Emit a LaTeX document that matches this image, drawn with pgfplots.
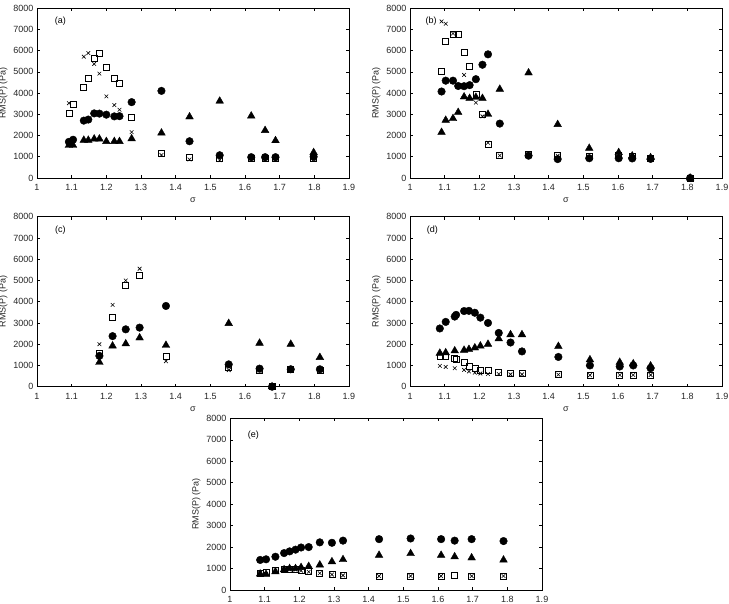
\documentclass[border=0pt]{standalone}
\usepackage{fontspec}
\setmainfont{Liberation Sans}
\usepackage{pgfplots}
\usepackage{pgfplotstable}
\pgfplotsset{compat=1.18}

% Columns: sigma, filled circles, filled triangles, open squares, crosses
\pgfplotstableread{
s      circ   tri    sq     cr
1.092  1700   1540   3030   3520
1.104  1800   1540   3470   nan
1.135  2700   1780   4280   5710
1.148  2750   1780   4680   5880
1.165  3040   1840   5620   5370
1.180  3030   1840   5870   4910
1.200  2980   1720   5200   3840
1.223  2900   1720   4700   3430
1.238  2910   1720   4470   3210
1.273  3570   1850   2870   2160
1.359  4100   2120   1150   1080
1.440  1730   2880   980    870
1.527  1070   3620   950    840
1.618  980    2920   950    950
1.658  980    2240   950    850
1.688  980    1760   950    850
1.798  1000   1200   950    880
}\dataA

\pgfplotstableread{
s      circ   tri    sq     cr
1.091  4070   2150   5020   7370
1.103  4580   2720   6430   7260
1.124  4580   2800   6780   6800
1.139  4330   3090   6780   nan
1.156  4320   3820   5900   4850
1.172  4370   3750   5250   nan
1.190  4650   3800   3920   3550
1.209  5330   3750   3000   2900
1.225  5820   3000   1570   1660
1.259  2560   4180   1060   1060
1.342  1050   4950   1120   1100
1.426  890    2520   1080   1050
1.517  930    1400   1040   1000
1.602  930    1200   1080   1100
1.641  920    1040   1000   1000
1.694  900    960    930    930
1.808  0      0      0      0
}\dataB

\pgfplotstableread{
s      circ   tri    sq     cr
1.180  1450   1150   1550   2000
1.218  2380   1920   3250   3850
1.256  2700   2020   4780   5000
1.296  2780   2300   5220   5550
1.372  3800   1950   1450   1200
1.553  1050   2980   900    780
1.642  850    2050   780    750
1.678  0      0      0      0
1.732  820    2000   800    780
1.816  820    1380   780    780
}\dataC

\pgfplotstableread{
s      circ   tri    sq     cr
1.086  2740   1580   1450   980
1.103  3050   1600   1430   930
1.129  3300   1690   1360   870
1.133  3380   nan    1290   nan
1.156  3560   1720   1130   790
1.170  3570   1760   960    720
1.187  3480   1830   860    660
1.203  3250   1920   780    620
1.225  3000   2000   760    600
1.256  2530   2260   680    600
1.290  2080   2450   640    580
1.323  1660   2450   620    580
1.428  1400   1900   570    570
1.519  1000   1270   540    540
1.605  950    1150   550    550
1.644  1000   1080   550    550
1.694  870    980    550    550
}\dataD

\pgfplotstableread{
s      circ   tri    sq     cr
1.087  1400   750    780    800
1.104  1430   730    830    750
1.131  1550   850    900    900
1.156  1720   950    950    950
1.172  1800   1000   950    950
1.189  1880   1000   950    950
1.205  1980   1050   900    900
1.227  2000   1100   850    850
1.259  2220   1170   780    780
1.294  2200   1320   720    720
1.326  2300   1420   680    680
1.430  2370   1620   650    650
1.521  2400   1700   650    650
1.609  2370   1620   650    650
1.648  2300   1550   690    nan
1.697  2370   1500   650    650
1.789  2280   1400   650    650
}\dataE

\newcommand{\lblfont}{\fontsize{9}{10.5}\selectfont}

\pgfplotsset{
  panel/.style={
    scale only axis, width=312pt, height=170pt,
    anchor=south west,
    xmin=1, xmax=1.9, ymin=0, ymax=8000,
    xtick={1,1.1,1.2,1.3,1.4,1.5,1.6,1.7,1.8,1.9},
    ytick={0,1000,2000,3000,4000,5000,6000,7000,8000},
    scaled ticks=false,
    yticklabel style={/pgf/number format/1000 sep={}},
    xticklabel style={yshift=-3pt},
    /pgf/number format/assume math mode=true,
    tick align=inside, major tick length=3pt,
    tick style={black, line width=0.5pt},
    axis line style={line width=0.6pt},
    tick label style={font=\lblfont, text=black!85},
    label style={font=\lblfont, text=black!85},
    xlabel={σ}, ylabel={RMS(P) (Pa)},
    xlabel style={yshift=0pt},
    ylabel style={yshift=-1pt},
    only marks,
  },
  tri/.style={mark=triangle*, mark size=4.4pt, black, mark options={fill=black}},
  sqr/.style={mark=square, mark size=3pt, black, mark options={line width=0.6pt}},
  crs/.style={mark=x, mark size=2.6pt, black, mark options={line width=0.6pt}},
  circ/.style={mark=*, mark size=3.8pt, black, mark options={fill=black}},
}

\newcommand{\panelplots}[1]{%
  \addplot[tri]  table[x=s, y=tri]  {#1};
  \addplot[sqr]  table[x=s, y=sq]   {#1};
  \addplot[crs]  table[x=s, y=cr]   {#1};
  \addplot[circ] table[x=s, y=circ] {#1};
}

\begin{document}
\begin{tikzpicture}
\useasboundingbox (0pt,0pt) rectangle (729pt,-604pt);

\begin{axis}[panel, at={(37pt,-178pt)}]
  \panelplots{\dataA}
  \node[font=\lblfont] at (rel axis cs:0.075,0.92) {(a)};
\end{axis}

\begin{axis}[panel, at={(410pt,-178pt)}]
  \panelplots{\dataB}
  \node[font=\lblfont] at (rel axis cs:0.068,0.92) {(b)};
\end{axis}

\begin{axis}[panel, at={(37pt,-386.7pt)}]
  \panelplots{\dataC}
  \node[font=\lblfont] at (rel axis cs:0.075,0.92) {(c)};
\end{axis}

\begin{axis}[panel, at={(410pt,-386.7pt)}]
  \panelplots{\dataD}
  \node[font=\lblfont] at (rel axis cs:0.072,0.92) {(d)};
\end{axis}

% bottom panel: the page ends just below its tick labels
\begin{axis}[panel, at={(230pt,-590pt)}, height=171.7pt, xlabel={}]
  \panelplots{\dataE}
  \node[font=\lblfont] at (rel axis cs:0.075,0.9) {(e)};
\end{axis}
\end{tikzpicture}
\end{document}
